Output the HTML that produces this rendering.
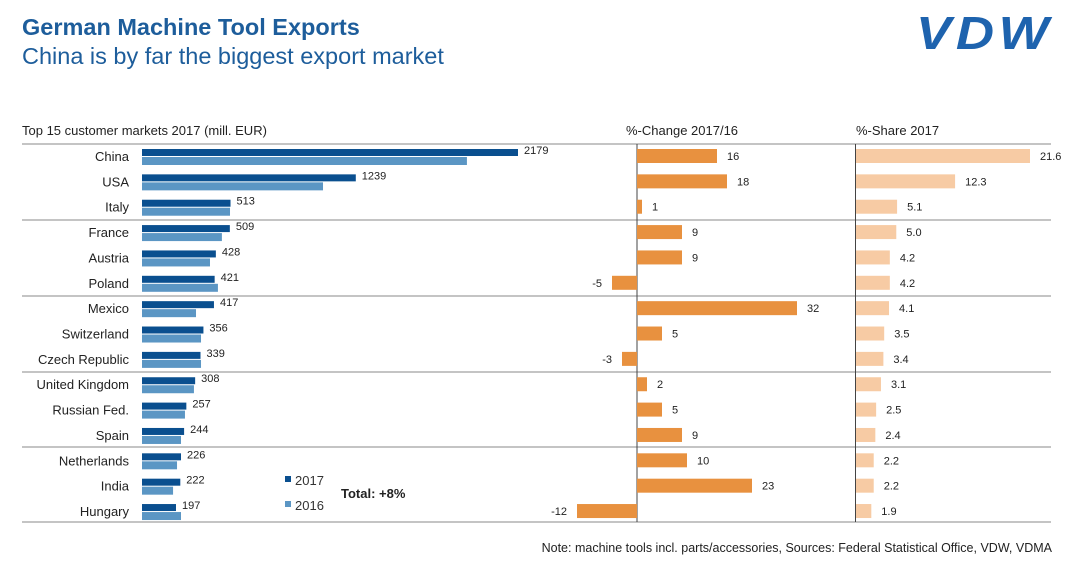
<!DOCTYPE html>
<html><head><meta charset="utf-8"><style>
body{margin:0;background:#fff;font-family:"Liberation Sans",Arial,sans-serif;}
#wrap{position:relative;width:1080px;height:566px;overflow:hidden;}
.t{position:absolute;white-space:nowrap;}
</style></head><body>
<div id="wrap">
<div class="t" style="left:22px;top:14px;font-size:23.5px;font-weight:bold;color:#1d5d9b">German Machine Tool Exports</div>
<div class="t" style="left:22px;top:43px;font-size:23.5px;color:#1d5d9b">China is by far the biggest export market</div>
<div class="t" style="left:916px;top:6px;font-size:46px;font-weight:bold;font-style:italic;color:#1e63ae;letter-spacing:4px;transform:scaleX(1.15);transform-origin:left">VDW</div>
<svg id="svg" width="1080" height="566" style="position:absolute;left:0;top:0"></svg>
</div>
<script>
const countries=["China","USA","Italy","France","Austria","Poland","Mexico","Switzerland","Czech Republic","United Kingdom","Russian Fed.","Spain","Netherlands","India","Hungary"];
const v2017=[2179,1239,513,509,428,421,417,356,339,308,257,244,226,222,197];
const v2016=[1883,1049,510,463,394,440,313,342,342,301,249,226,203,180,226];
const change=[16,18,1,9,9,-5,32,5,-3,2,5,9,10,23,-12];
const share=["21.6","12.3","5.1","5.0","4.2","4.2","4.1","3.5","3.4","3.1","2.5","2.4","2.2","2.2","1.9"];
const svg=document.getElementById('svg');
const NS="http://www.w3.org/2000/svg";
function mk(tag,attrs,name,text){const e=document.createElementNS(NS,tag);for(const k in attrs)e.setAttribute(k,attrs[k]);


if(text!==undefined)e.textContent=text;svg.appendChild(e);return e;}
const x0=142,kx=376/2179;const cz=637,kc=5.0;const sz=856,ks=174/21.6;
const rowY=i=>156+i*25.36;
const xv=v=>x0+v*kx, xc=v=>cz+v*kc, xs=v=>sz+v*ks;
mk('text',{x:22,y:135,'font-size':13,fill:'#222'},'bar-panel-title','Top 15 customer markets 2017 (mill. EUR)');
mk('text',{x:626,y:135,'font-size':13,fill:'#222'},'change-panel-title','%-Change 2017/16');
mk('text',{x:856,y:135,'font-size':13,fill:'#222'},'share-panel-title','%-Share 2017');
[144,220,296,372,447,522].forEach((y,i)=>mk('line',{x1:22,x2:1051,y1:y,y2:y,stroke:'#888','stroke-width':1},'group-separator'));
mk('line',{x1:637,x2:637,y1:144,y2:522,stroke:'#444','stroke-width':1},'change-zero-axis');
mk('line',{x1:855.5,x2:855.5,y1:144,y2:522,stroke:'#444','stroke-width':1},'share-zero-axis');
countries.forEach((c,i)=>{const y=rowY(i);
mk('text',{x:129,y:y+5,'font-size':13,fill:'#222','text-anchor':'end'},'country-label',c);
mk('rect',{x:x0,y:y-7,width:xv(v2017[i])-x0,height:7,fill:'#0a4f8f'},'bar-2017');
mk('rect',{x:x0,y:y+1,width:xv(v2016[i])-x0,height:8,fill:'#5b96c4'},'bar-2016');
mk('text',{x:xv(v2017[i])+6,y:y-2,'font-size':11,fill:'#222'},'value-2017',v2017[i]);
const cv=change[i];const a=Math.min(xc(cv),cz),w=Math.abs(xc(cv)-cz);
mk('rect',{x:a,y:y-7,width:w,height:14,fill:'#e8913f'},'change-bar');
mk('text',{x:cv>=0?xc(cv)+10:xc(cv)-10,y:y+4,'font-size':11,fill:'#222','text-anchor':cv>=0?'start':'end'},'change-value',cv);
const sv=parseFloat(share[i]);
mk('rect',{x:sz,y:y-7,width:xs(sv)-sz,height:14,fill:'#f7cba4'},'share-bar');
mk('text',{x:xs(sv)+10,y:y+4,'font-size':11,fill:'#222'},'share-value',share[i]);
});
mk('rect',{x:285,y:476,width:6,height:6,fill:'#0a4f8f'},'legend-2017-swatch');
mk('text',{x:295,y:485,'font-size':13,fill:'#333'},'legend-2017','2017');
mk('rect',{x:285,y:501,width:6,height:6,fill:'#5b96c4'},'legend-2016-swatch');
mk('text',{x:295,y:510,'font-size':13,fill:'#333'},'legend-2016','2016');
mk('text',{x:341,y:498,'font-size':13,'font-weight':'bold',fill:'#222'},'total-label','Total: +8%');
mk('text',{x:1052,y:552,'font-size':12.5,fill:'#222','text-anchor':'end'},'source-note','Note: machine tools incl. parts/accessories, Sources: Federal Statistical Office,  VDW, VDMA');
</script>
</body></html>
